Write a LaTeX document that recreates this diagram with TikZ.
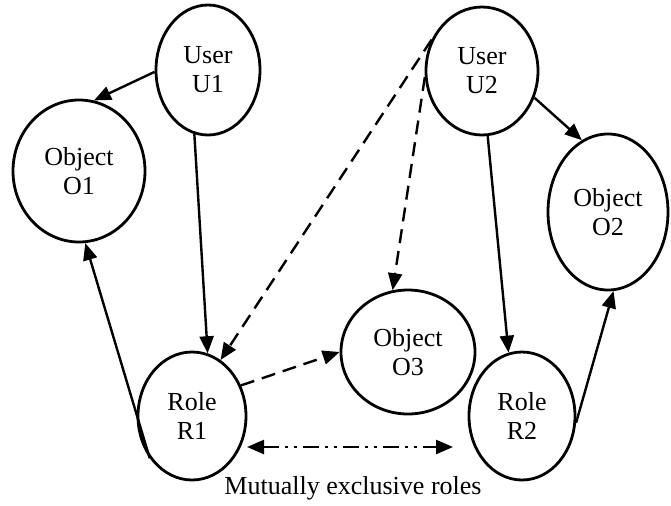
\documentclass[tikz,border=0pt]{standalone}
\usepackage{fontspec}
\setmainfont{Liberation Serif}
\usetikzlibrary{shapes.geometric, arrows.meta}

\begin{document}
\begin{tikzpicture}[x=0.5pt, y=-0.5pt,
    every node/.style={font=\fontsize{13}{14.5}\selectfont},
    ent/.style={draw, ellipse, line width=1.4pt, inner sep=0pt, align=center},
    link/.style={line width=1.2pt, -{Triangle[length=8.5pt,width=7pt]}},
    perm/.style={link, dash pattern=on 7pt off 4pt},
    excl/.style={line width=1.2pt, {Triangle[length=8.5pt,width=7pt]}-{Triangle[length=8.5pt,width=7pt]},
        dash pattern=on 8pt off 3pt on 1.5pt off 3pt on 1.5pt off 3pt}]
    \useasboundingbox (0,0) rectangle (671,505);

    % Users
    \node [ent, minimum width=52pt, minimum height=65pt] (U1) at (208,70) {User\\U1};
    \node [ent, minimum width=56pt, minimum height=64pt] (U2) at (482,71) {User\\U2};

    % Objects
    \node [ent, minimum width=66pt, minimum height=71pt] (O1) at (79,171) {Object\\O1};
    \node [ent, minimum width=60pt, minimum height=78pt] (O2) at (608,212) {Object\\O2};
    \node [ent, minimum width=67pt, minimum height=62pt] (O3) at (408,352) {Object\\O3};

    % Roles
    \node [ent, minimum width=54pt, minimum height=64pt] (R1) at (192,416) {Role\\R1};
    \node [ent, minimum width=53pt, minimum height=64pt] (R2) at (522,416) {Role\\R2};

    % Assignments
    \draw [link] (U1.182) -- (O1.78);
    \draw [link] (U1.258) -- (R1.76);
    \draw [link] (R1.225) -- (O1.275);
    \draw [link] (U2.275) -- (R2.102);
    \draw [link] (U2.333) -- (O2.110);
    \draw [link] (R2.353) -- (O2.274);

    % Dashed links
    \draw [perm] (U2.148) -- (R1.63);
    \draw [perm] (U2.186) -- (O3.104);
    \draw [perm] (R1.32) -- (O3.180);

    % Exclusive roles
    \coordinate (EL) at (247,447);
    \coordinate (ER) at (453,447);
    \draw [excl] (EL) -- (ER);
    \node (note) at (353,488) {Mutually exclusive roles};

\end{tikzpicture}
\end{document}
